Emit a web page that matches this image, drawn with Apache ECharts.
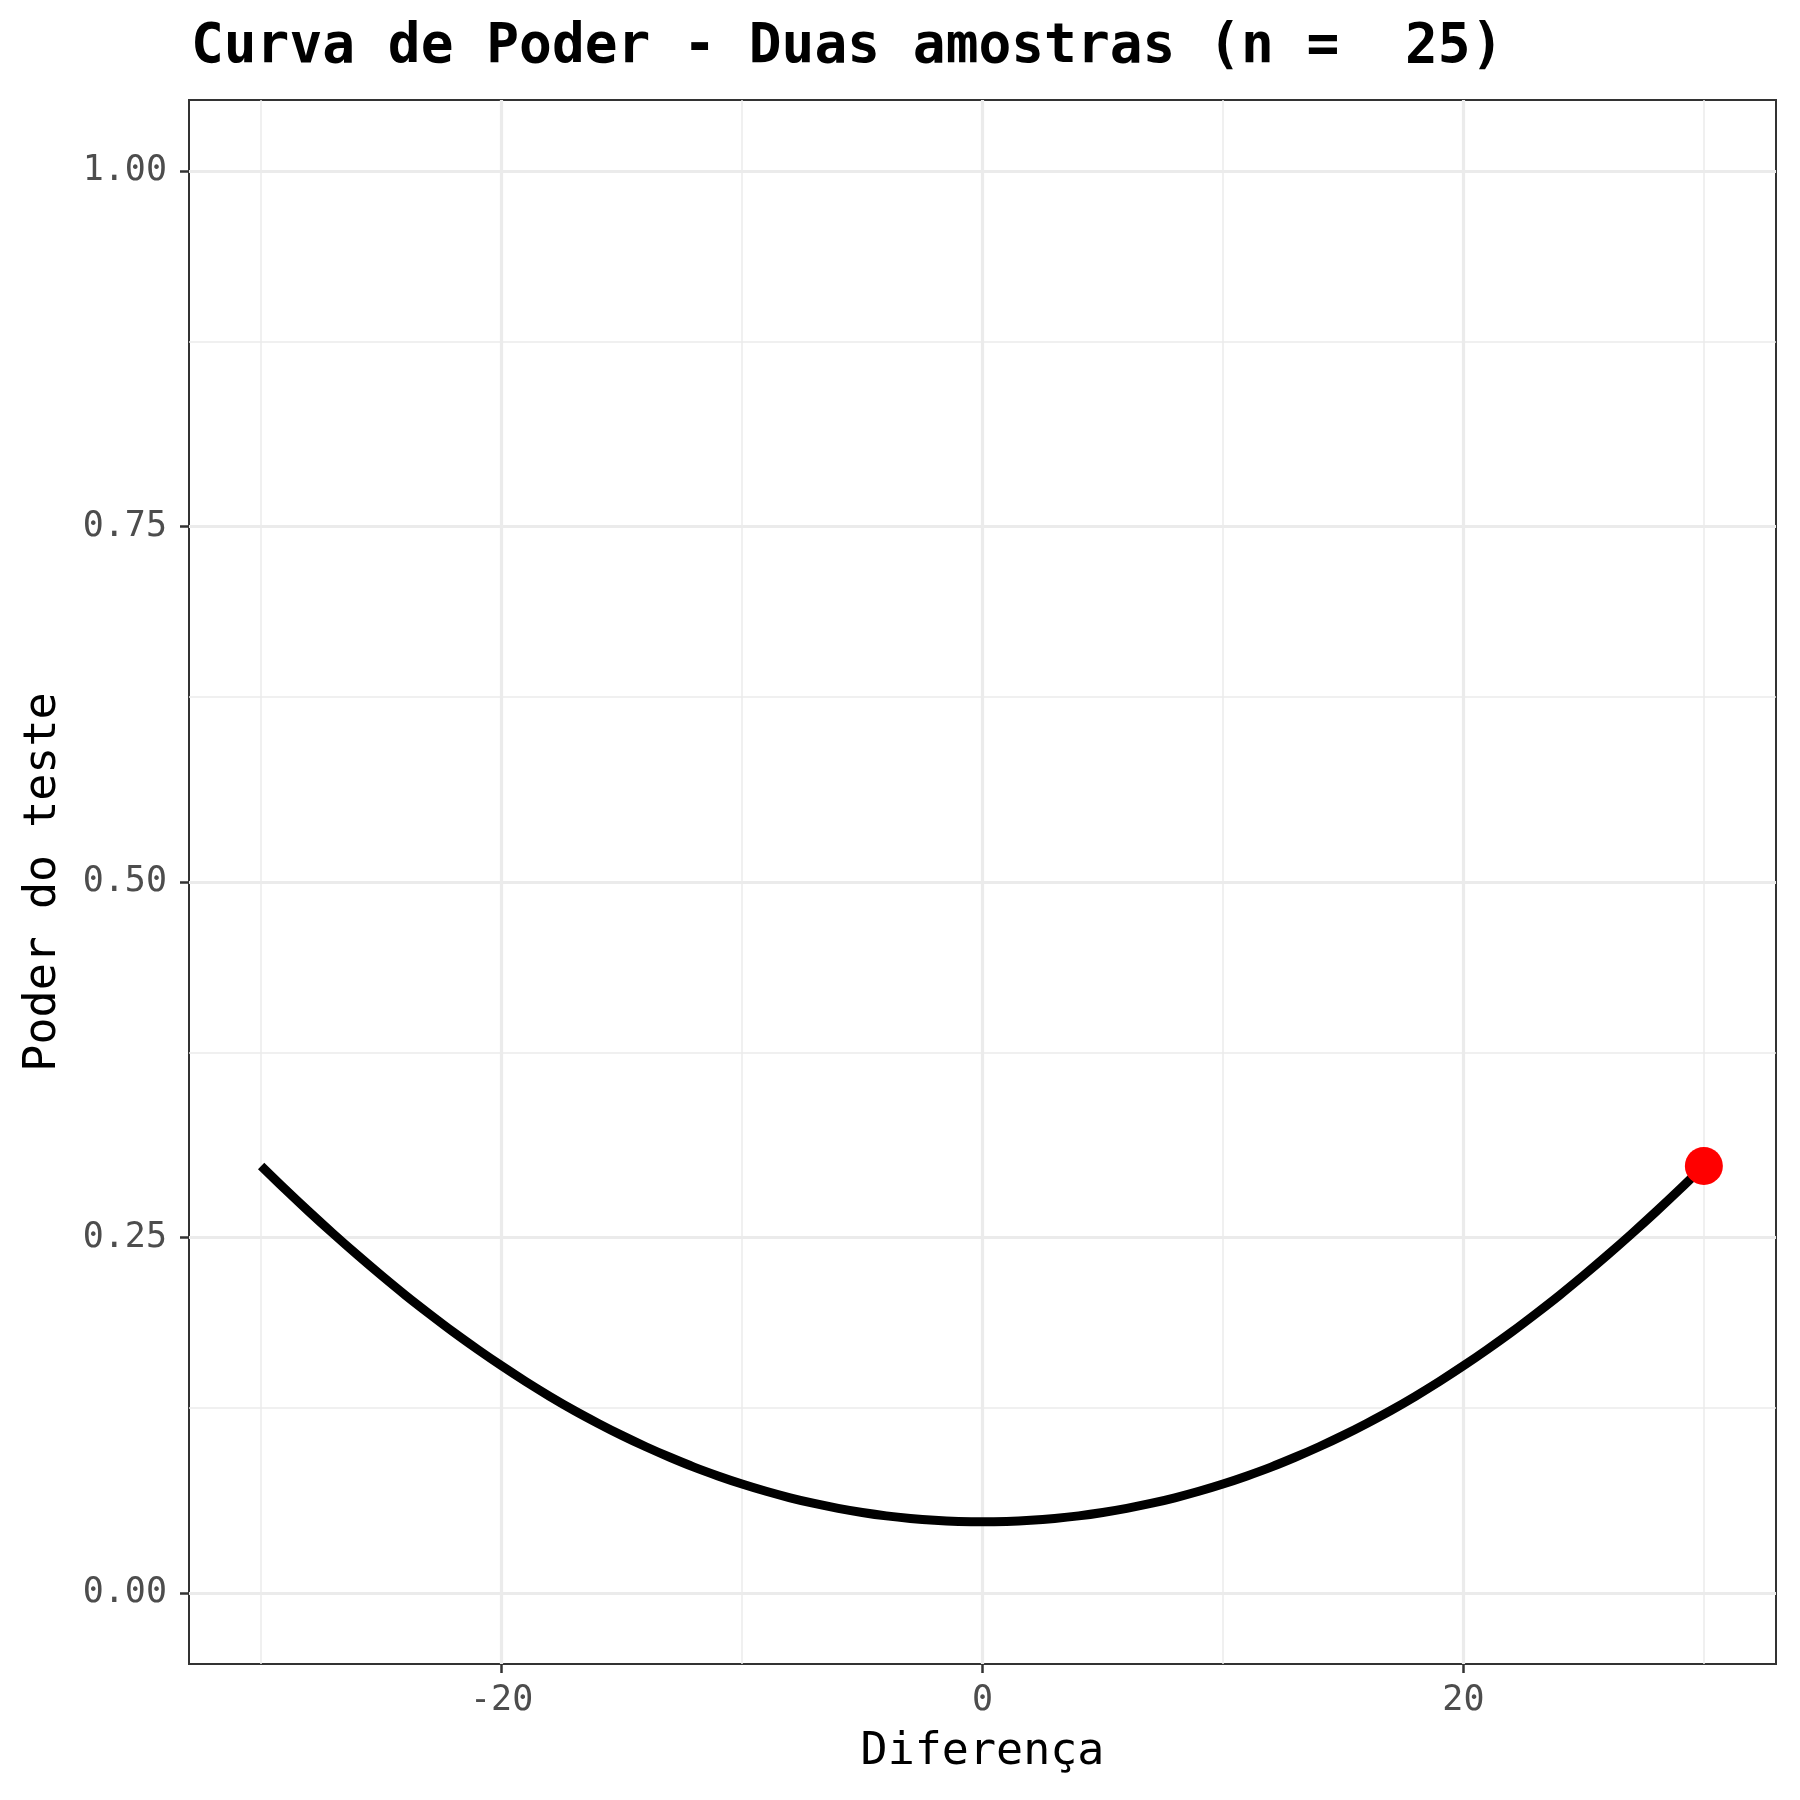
<!DOCTYPE html>
<html>
<head>
<meta charset="utf-8">
<script src="https://cdn.jsdelivr.net/npm/echarts@6/dist/echarts.min.js"></script>
<style>
html,body{margin:0;padding:0;background:#fff;}
#chart{width:1800px;height:1800px;}
</style>
</head>
<body>
<div id="chart"></div>
<script>
// Power curve values
const diffs = [-30,-29,-28,-27,-26,-25,-24,-23,-22,-21,-20,-19,-18,-17,-16,-15,-14,-13,-12,-11,-10,-9,-8,-7,-6,-5,-4,-3,-2,-1,0,1,2,3,4,5,6,7,8,9,10,11,12,13,14,15,16,17,18,19,20,21,22,23,24,25,26,27,28,29,30];
const power = [0.3003,0.2839,0.2680,0.2526,0.2377,0.2233,0.2094,0.1962,0.1834,0.1713,0.1597,0.1487,0.1383,0.1285,0.1194,0.1108,0.1028,0.0954,0.0885,0.0823,0.0766,0.0715,0.0669,0.0629,0.0595,0.0566,0.0542,0.0524,0.0511,0.0503,0.0500,0.0503,0.0511,0.0524,0.0542,0.0566,0.0595,0.0629,0.0669,0.0715,0.0766,0.0823,0.0885,0.0954,0.1028,0.1108,0.1194,0.1285,0.1383,0.1487,0.1597,0.1713,0.1834,0.1962,0.2094,0.2233,0.2377,0.2526,0.2680,0.2839,0.3003];
const highlightX = [30];
const highlightY = [0.3003];
const yTicks = [0, 0.25, 0.5, 0.75, 1];
const yMinor = [0.125, 0.375, 0.625, 0.875];
const xTicks = [-20, 0, 20];
const xMinor = [-30, -10, 10, 30];
const titleText = 'Curva de Poder - Duas amostras (n =  25)';

const FONT = 'DejaVu Sans Mono';
const chart = echarts.init(document.getElementById('chart'), null, {renderer: 'canvas'});

const gridLines = [];
yMinor.forEach(v => gridLines.push({yAxis: v, lineStyle: {color: '#ebebeb', width: 1.5, type: 'solid'}}));
xMinor.forEach(v => gridLines.push({xAxis: v, lineStyle: {color: '#ebebeb', width: 1.5, type: 'solid'}}));
yTicks.forEach(v => gridLines.push({yAxis: v, lineStyle: {color: '#ebebeb', width: 3.2, type: 'solid'}}));
xTicks.forEach(v => gridLines.push({xAxis: v, lineStyle: {color: '#ebebeb', width: 3.2, type: 'solid'}}));

chart.setOption({
  animation: false,
  backgroundColor: '#ffffff',
  title: {
    text: titleText,
    left: 186, top: 15,
    textStyle: {fontFamily: FONT, fontWeight: 'bold', fontSize: 54.5, color: '#000'}
  },
  grid: {left: 189, right: 24, top: 100, bottom: 136, show: true, borderColor: '#333333', borderWidth: 2, backgroundColor: 'transparent'},
  xAxis: {
    type: 'value', min: -33, max: 33, position: 'bottom',
    name: 'Diferença', nameLocation: 'middle', nameGap: 66,
    nameTextStyle: {fontFamily: FONT, fontSize: 45, color: '#000'},
    axisLine: {show: false, onZero: false},
    axisTick: {show: true, inside: false, length: 9, lineStyle: {color: '#333333', width: 2.5}, customValues: xTicks},
    axisLabel: {show: true, margin: 19, fontFamily: FONT, fontSize: 35, color: '#4d4d4d', customValues: xTicks, formatter: v => String(v)},
    splitLine: {show: false}, minorTick: {show: false}
  },
  yAxis: {
    type: 'value', min: -0.05, max: 1.05, position: 'left',
    name: 'Poder do teste', nameLocation: 'middle', nameGap: 123,
    nameTextStyle: {fontFamily: FONT, fontSize: 45, color: '#000'},
    axisLine: {show: false, onZero: false},
    axisTick: {show: true, inside: false, length: 9, lineStyle: {color: '#333333', width: 2.5}, customValues: yTicks},
    axisLabel: {show: true, margin: 22, fontFamily: FONT, fontSize: 35, color: '#4d4d4d', customValues: yTicks, formatter: v => v.toFixed(2)},
    splitLine: {show: false}
  },
  series: [
    {
      type: 'line', data: [], silent: true, z: 0,
      markLine: {silent: true, z: 0, symbol: ['none','none'], label: {show: false}, animation: false, data: gridLines}
    },
    {
      type: 'line', data: diffs.map((d, i) => [d, power[i]]),
      showSymbol: false, smooth: 0.3, clip: false,
      lineStyle: {color: '#000000', width: 9, cap: 'butt', join: 'round'}, z: 3
    },
    {
      type: 'scatter', data: highlightX.map((d, i) => [d, highlightY[i]]),
      symbolSize: 38, itemStyle: {color: '#ff0000', opacity: 1}, z: 4
    }
  ]
});
</script>
</body>
</html>
